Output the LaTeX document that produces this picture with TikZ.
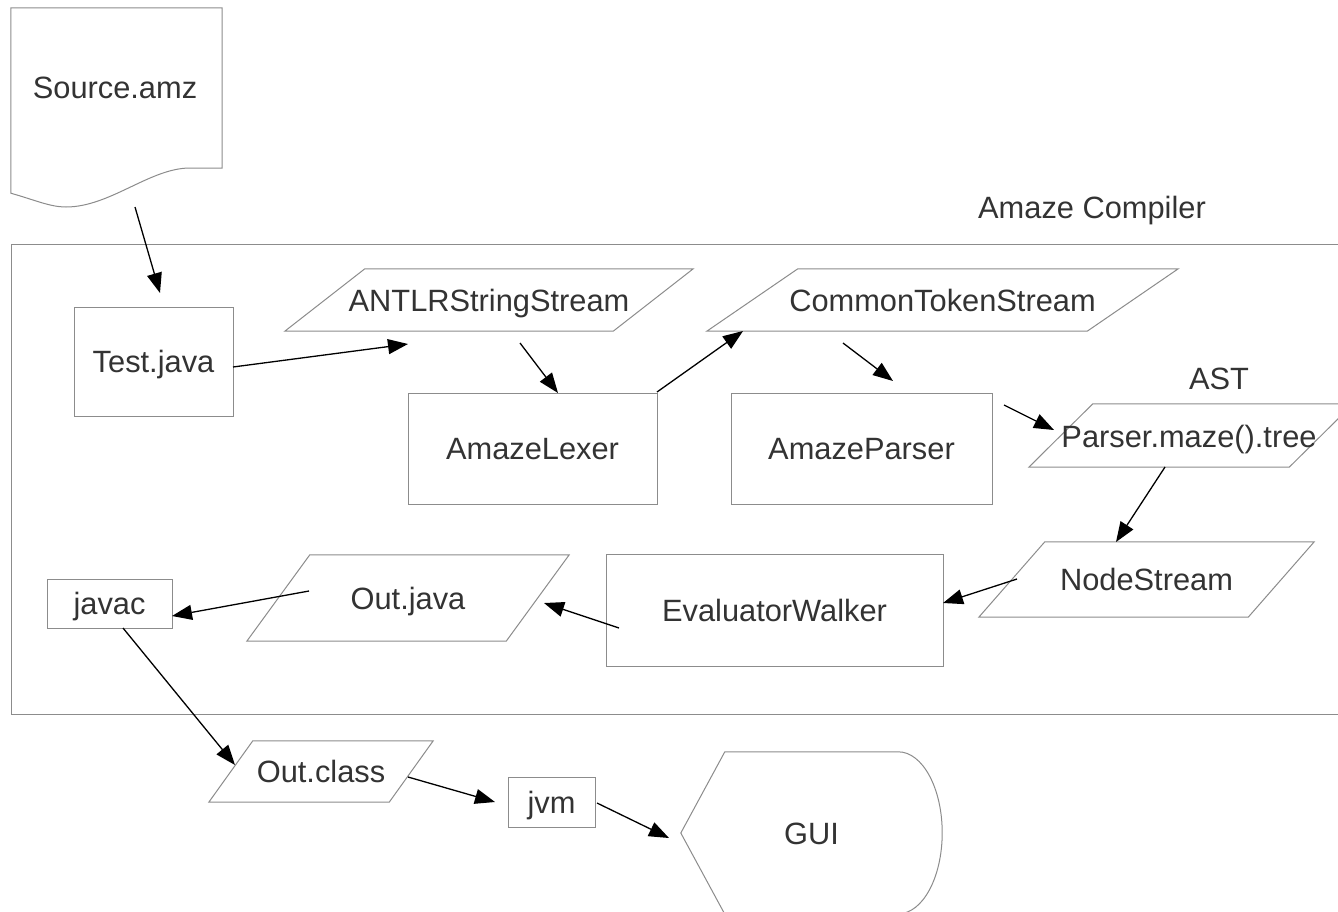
\documentclass[tikz,border=0pt]{standalone}
\usepackage{fontspec}
\setmainfont{Liberation Sans}
\usetikzlibrary{arrows.meta,calc}
\definecolor{txtc}{RGB}{51,51,51}
\definecolor{linec}{RGB}{140,140,140}
\tikzset{
  lbl/.style={font=\fontsize{30.8pt}{36pt}\selectfont, text=txtc, inner sep=0pt, text height=22pt, text depth=0pt},
  frame/.style={draw=linec, line width=1pt, inner sep=0pt},
  ghost/.style={inner sep=0pt, font=\fontsize{30.8pt}{36pt}\selectfont, text=txtc, text height=22pt, text depth=0pt},
  outline/.style={draw=linec, line width=1pt, line join=miter},
  arr/.style={draw=black, line width=1.3pt, -{Triangle[length=20pt,width=15pt]}}
}
\begin{document}
\begin{tikzpicture}[x=1pt,y=-1pt]
\clip (0,0) rectangle (1338,911);
\fill[white] (0,0) rectangle (1338,911);

% outer container
\draw[outline] (11,244) rectangle (1400,714);
\node[lbl] (title) at (1092,207.5) {Amaze Compiler};

% Source document
\node[ghost, minimum width=211pt, minimum height=185pt] (src) at (116.5,100.5) {};
\draw[outline] (src.south west) -- (src.north west) -- (src.north east) -- ($(src.south east)+(0,-25)$)
  -- (190,168) .. controls (150,168) and (110,207) .. (66,207)
  .. controls (50,207) and (35,200) .. (src.south west) -- cycle;
\node[lbl] (srctxt) at (115,87.5) {Source.amz};

% rectangles
\node[frame, ghost, minimum width=159pt, minimum height=109pt] (test) at (153.5,361.5) {Test.java};
\node[frame, ghost, minimum width=249pt, minimum height=111pt] (lexer) at (532.5,448.5) {AmazeLexer};
\node[frame, ghost, minimum width=261pt, minimum height=111pt] (parser) at (861.5,448.5) {AmazeParser};
\node[frame, ghost, minimum width=337pt, minimum height=112pt] (eval) at (774.5,610) {EvaluatorWalker};
\node[frame, ghost, minimum width=125pt, minimum height=49pt] (javac) at (109.5,603.5) {javac};
\node[frame, ghost, minimum width=87pt, minimum height=50pt] (jvm) at (551.5,802) {jvm};

% parallelograms (bounding nodes + outlines)
\node[ghost, minimum width=408pt, minimum height=62pt] (antlr) at (489,300) {ANTLRStringStream};
\draw[outline] ($(antlr.north west)+(80,0)$) -- (antlr.north east) -- ($(antlr.south east)+(-80,0)$) -- (antlr.south west) -- cycle;

\node[ghost, minimum width=471pt, minimum height=62pt] (ctok) at (942.5,300) {CommonTokenStream};
\draw[outline] ($(ctok.north west)+(91,0)$) -- (ctok.north east) -- ($(ctok.south east)+(-91,0)$) -- (ctok.south west) -- cycle;

\node[ghost, minimum width=324pt, minimum height=63pt] (tree) at (1191,435.5) {};
\draw[outline] ($(tree.north west)+(64,0)$) -- (tree.north east) -- ($(tree.south east)+(-64,0)$) -- (tree.south west) -- cycle;
\node[lbl] (treetxt) at (1189,436) {Parser.maze().tree};
\node[lbl] (ast) at (1219,378) {AST};

\node[ghost, minimum width=335pt, minimum height=75pt] (nstream) at (1146.5,579.5) {NodeStream};
\draw[outline] ($(nstream.north west)+(66,0)$) -- (nstream.north east) -- ($(nstream.south east)+(-66,0)$) -- (nstream.south west) -- cycle;

\node[ghost, minimum width=322pt, minimum height=86pt] (outj) at (408,598) {Out.java};
\draw[outline] ($(outj.north west)+(63,0)$) -- (outj.north east) -- ($(outj.south east)+(-63,0)$) -- (outj.south west) -- cycle;

\node[ghost, minimum width=224pt, minimum height=61pt] (outc) at (321,771.5) {Out.class};
\draw[outline] ($(outc.north west)+(44,0)$) -- (outc.north east) -- ($(outc.south east)+(-44,0)$) -- (outc.south west) -- cycle;

% GUI display shape
\node[ghost, minimum width=261pt, minimum height=162pt] (gui) at (811.5,833) {GUI};
\draw[outline] (gui.west) -- ($(gui.north west)+(44,0)$) -- ($(gui.north east)+(-44,0)$)
  arc[start angle=90, end angle=-90, x radius=44pt, y radius=81pt]
  -- ($(gui.south west)+(44,0)$) -- cycle;

% connectors
\draw[arr] ($(src)+(18.5,106.5)$) -- ($(test)+(6.5,-68.5)$);
\draw[arr] ($(test)+(79.5,5.5)$) -- ($(antlr)+(-81,44)$);
\draw[arr] ($(antlr)+(31,43)$) -- ($(lexer)+(25.5,-55.5)$);
\draw[arr] ($(lexer)+(124.5,-56.5)$) -- ($(ctok)+(-199.5,31)$);
\draw[arr] ($(ctok)+(-99.5,43)$) -- ($(parser)+(31.5,-67.5)$);
\draw[arr] ($(parser)+(142.5,-43.5)$) -- ($(tree)+(-137,-5.5)$);
\draw[arr] ($(tree)+(-26,31.5)$) -- ($(nstream)+(-30.5,-37.5)$);
\draw[arr] ($(nstream)+(-129.5,-0.5)$) -- ($(eval)+(168.5,-7)$);
\draw[arr] ($(eval)+(-155.5,18)$) -- ($(outj)+(136,5)$);
\draw[arr] ($(outj)+(-99,-7)$) -- ($(javac)+(62.5,12.5)$);
\draw[arr] ($(javac)+(13.5,24.5)$) -- ($(outc)+(-86,-6.5)$);
\draw[arr] ($(outc)+(87,5.5)$) -- ($(jvm)+(-56.5,0)$);
\draw[arr] ($(jvm)+(45.5,1)$) -- ($(gui)+(-142.5,5)$);
\end{tikzpicture}
\end{document}
